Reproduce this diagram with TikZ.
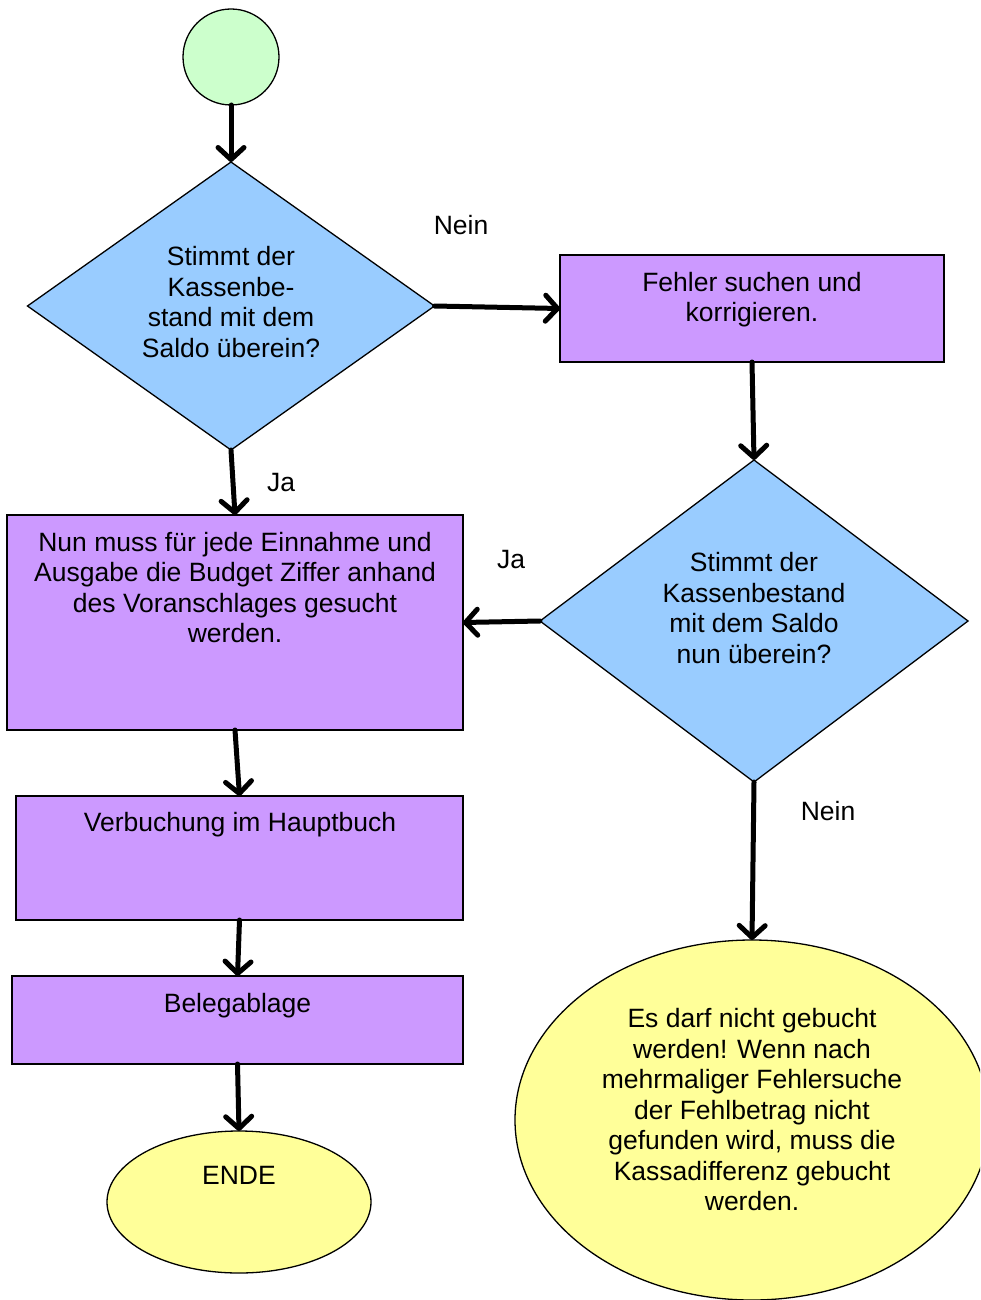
\documentclass[tikz,border=0pt]{standalone}
\usepackage{fontspec}
\setmainfont{Liberation Sans}
\usetikzlibrary{shapes.geometric,arrows.meta}
\definecolor{cgreen}{HTML}{CCFFCC}
\definecolor{cblue}{HTML}{99CCFF}
\definecolor{cpurple}{HTML}{CC99FF}
\definecolor{cyellow}{HTML}{FFFF99}
\tikzset{
  shp/.style={draw=black, line width=1.3pt, inner sep=0pt, outer sep=0pt},
  startc/.style={shp, circle, fill=cgreen, minimum size=96pt},
  decision/.style={shp, diamond, fill=cblue},
  procbox/.style={shp, rectangle, fill=cpurple},
  endell/.style={shp, ellipse, fill=cyellow},
  txt/.style={align=center, inner sep=0pt, font=\fontsize{26.5}{30.5}\selectfont},
  lbl/.style={inner sep=0pt, font=\fontsize{26.5}{30.5}\selectfont},
  flow/.style={line width=5pt, line cap=round, -{Straight Barb[length=12pt,width=26pt,line width=5pt,line cap=round,round]}}
}
\begin{document}
\begin{tikzpicture}[x=1pt,y=-1pt]
\useasboundingbox (0,0) rectangle (980,1300);
\clip (0,0) rectangle (980,1300);
\fill[white] (0,0) rectangle (980,1300);

\node[startc] (start) at (231,57) {};

\node[decision, minimum width=407pt, minimum height=288pt] (d1) at (231,306) {};
\node[txt] (d1t) at (231,302) {Stimmt der\\Kassenbe-\\stand mit dem\\Saldo überein?};

\node[procbox, minimum width=384pt, minimum height=107pt] (r1) at (752,308.5) {};
\node[txt] (r1t) at (752,299.5) {Fehler suchen und\\korrigieren.};

\node[decision, minimum width=428pt, minimum height=322pt] (d2) at (754,621) {};
\node[txt] (d2t) at (754,608) {Stimmt der\\Kassenbestand\\mit dem Saldo\\nun überein?};

\node[procbox, minimum width=456pt, minimum height=215pt] (r2) at (235,622.5) {};
\node[txt] (r2t) at (235,587.5) {Nun muss für jede Einnahme und\\Ausgabe die Budget Ziffer anhand\\des Voranschlages gesucht\\werden.};

\node[procbox, minimum width=447pt, minimum height=124pt] (r3) at (239.5,858) {};
\node[txt] (r3t) at (240,824.5) {Verbuchung im Hauptbuch};

\node[procbox, minimum width=451pt, minimum height=88pt] (r4) at (237.5,1020) {};
\node[txt] (r4t) at (237.5,1005.5) {Belegablage};

\node[endell, minimum width=264pt, minimum height=142pt] (e1) at (239,1202) {};
\node[txt] (e1t) at (239,1175.5) {ENDE};

\node[endell, minimum width=474pt, minimum height=360pt] (e2) at (752,1120) {};
\node[txt] (e2t) at (752,1110) {Es darf nicht gebucht\\werden! Wenn nach\\mehrmaliger Fehlersuche\\der Fehlbetrag nicht\\gefunden wird, muss die\\Kassadifferenz gebucht\\werden.};

\node[lbl] (l1) at (461,225) {Nein};
\node[lbl] (l2) at (281,483) {Ja};
\node[lbl] (l3) at (511,560) {Ja};
\node[lbl] (l4) at (828,811) {Nein};

\draw[flow] (start.south) -- (d1.north);
\draw[flow] (d1.east) -- (r1.west);
\draw[flow] (r1.south) -- (d2.north);
\draw[flow] (d2.west) -- (r2.east);
\draw[flow] (d1.south) -- (r2.north);
\draw[flow] (r2.south) -- (r3.north);
\draw[flow] (r3.south) -- (r4.north);
\draw[flow] (r4.south) -- (e1.north);
\draw[flow] (d2.south) -- (e2.north);
\end{tikzpicture}
\end{document}
